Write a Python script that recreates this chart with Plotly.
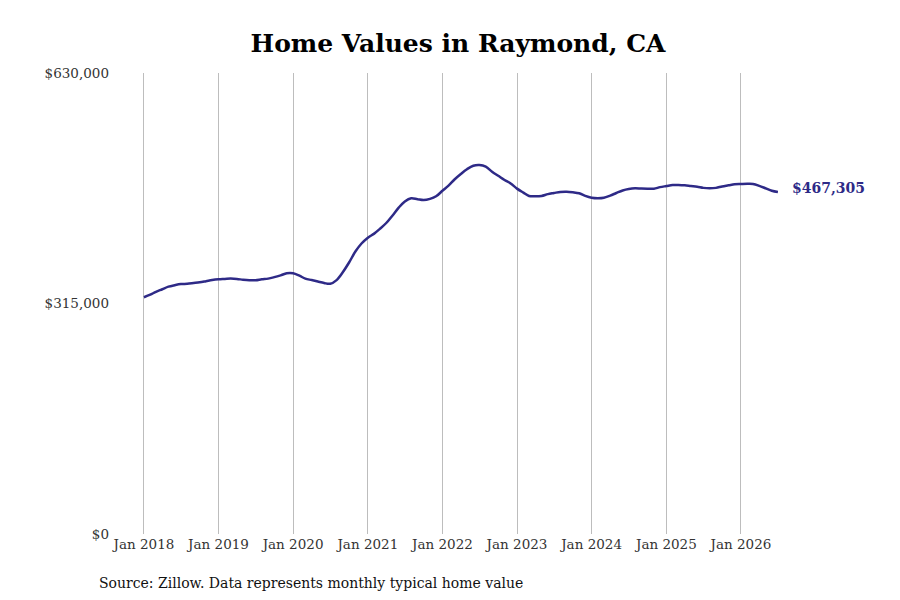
import pandas as pd
import plotly.graph_objects as go

# monthly typical home value, Jan 2018 - Jul 2026
dates = pd.date_range('2018-01-01', periods=103, freq='MS')
values = [
    323500, 327000, 331000, 334500, 338000, 340000, 341500, 342000, 343000, 344000,
    345500, 347000, 348000, 348500, 349000, 348500, 347500, 346800, 346700, 348000,
    349000, 351000, 353500, 356300, 356300, 353000, 349000, 347000, 345000, 343000,
    342000, 347000, 358000, 371000, 386000, 397000, 405000, 410500, 417000, 425000,
    435000, 446000, 454500, 458800, 457500, 456400, 458000, 461500, 469000, 476500,
    484500, 492000, 498500, 503300, 504300, 502000, 495000, 489500, 483800, 479000,
    472000, 466500, 461900, 461500, 462000, 464500, 466000, 467500, 467800, 467000,
    465600, 462000, 459500, 458800, 459500, 462500, 466000, 469500, 471500, 472400,
    472000, 471800, 471800, 474000, 475500, 477000, 477000, 476500, 475500, 474500,
    473000, 472400, 473000, 475000, 476500, 478000, 478300, 478500, 478300, 475800,
    472500, 469000, 467305,
]
y_ticks = [0, 315000, 630000]
x_ticks = pd.date_range('2018-01-01', '2026-01-01', freq='YS')

line_color = '#2e2a87'
font = 'DejaVu Serif'

fig = go.Figure()
fig.add_trace(go.Scatter(x=dates, y=values, mode='lines',
                         line=dict(color=line_color, width=2.5, shape='spline'),
                         hoverinfo='skip', showlegend=False))

fig.add_annotation(x=dates[-1], y=values[-1], text=f'<b>${values[-1]:,}</b>',
                   showarrow=False, xanchor='left', xshift=12, yshift=4,
                   font=dict(family=font, size=14, color=line_color))

fig.add_annotation(x=0, y=0, xref='paper', yref='paper', xanchor='left', yanchor='top',
                   text='Source: Zillow. Data represents monthly typical home value',
                   showarrow=False, xshift=-13, yshift=-39,
                   font=dict(family=font, size=14, color='#111'))

fig.update_layout(
    width=900, height=600,
    title=dict(text='<b>Home Values in Raymond, CA</b>', x=0.5, xanchor='center',
               y=0.9417, yanchor='middle', font=dict(family=font, size=25, color='black')),
    plot_bgcolor='white', paper_bgcolor='white',
    margin=dict(l=102, r=108, t=65, b=74),
    font=dict(family=font, size=13.5, color='#333'),
)
fig.update_xaxes(range=['2017-07-19', '2026-10-17'], tickvals=x_ticks,
                 ticktext=[f'Jan {d.year}' for d in x_ticks],
                 showgrid=True, gridcolor='#bdbdbd', gridwidth=1,
                 showline=False, zeroline=False, ticks='')
fig.update_yaxes(range=[0, 630000], tickvals=y_ticks,
                 ticktext=[f'${v:,}' for v in y_ticks],
                 showgrid=False, zeroline=False, showline=False, ticks='')

fig.write_html('out.html')
